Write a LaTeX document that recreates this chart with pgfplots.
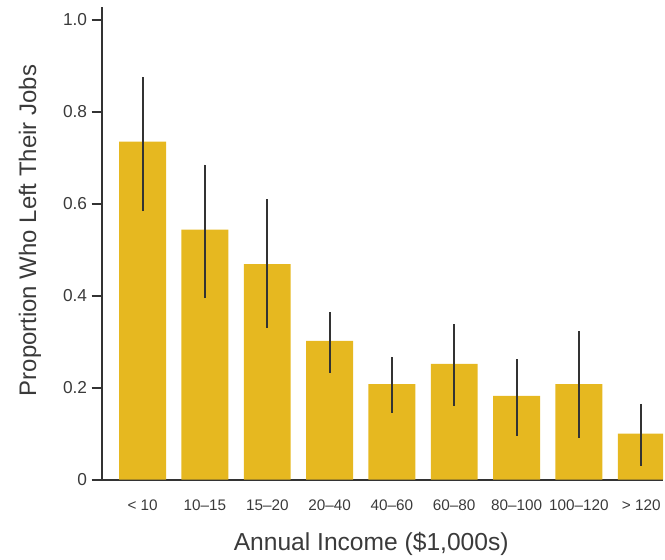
\documentclass[border=0pt]{standalone}
\usepackage{fontspec}
\setmainfont{Liberation Sans}
\usepackage{pgfplots}
\usepackage{pgfplotstable}
\pgfplotsset{compat=1.18}
\usetikzlibrary{calc}
\definecolor{barcol}{HTML}{E6B820}
\definecolor{axcol}{HTML}{333333}
\definecolor{txtcol}{HTML}{3A3A3A}
\pgfplotstableread{
x y ep em
0 0.735 0.141 0.151
1 0.544 0.141 0.149
2 0.469 0.141 0.139
3 0.302 0.062 0.070
4 0.208 0.059 0.063
5 0.252 0.086 0.092
6 0.182 0.080 0.087
7 0.208 0.115 0.117
8 0.100 0.065 0.070
}\datatab
\begin{document}
\begin{tikzpicture}
\begin{axis}[name=ax, scale only axis, width=422.25pt, height=355.5pt,
  xmin=-0.656, xmax=8.352, ymin=0, ymax=1.028,
  axis lines*=left,
  axis line style={line width=1.5pt, color=axcol, -},
  /pgf/number format/assume math mode=true,
  ytick={0,0.2,0.4,0.6,0.8,1.0},
  yticklabels={0,0.2,0.4,0.6,0.8,1.0},
  xtick={0,...,8},
  xticklabels={{< 10},{10–15},{15–20},{20–40},{40–60},{60–80},{80–100},{100–120},{> 120}},
  xtick style={draw=none},
  ytick style={line width=1.5pt, color=axcol},
  tick align=outside,
  major tick length=7.5pt,
  yticklabel style={font=\fontsize{13}{15}\selectfont, text=txtcol},
  xticklabel style={font=\fontsize{11.5}{13}\selectfont, text=txtcol, yshift=-4pt},
  xlabel={Annual Income (\$1,000s)},
  ylabel={Proportion Who Left Their Jobs},
  xlabel style={font=\fontsize{18.5}{21}\selectfont, text=txtcol, at={(axis description cs:0.48,-0.135)}, anchor=center},
  ylabel style={font=\fontsize{18}{21}\selectfont, text=txtcol, at={(axis description cs:-0.128,0.527)}, anchor=center, rotate=0},
  clip=true,
]
\addplot[ybar, bar width=35.25pt, bar shift=0pt, fill=barcol, draw=none,
  error bars/.cd, y dir=both, y explicit, error mark=none,
  error bar style={line width=1.5pt, color=axcol}]
  table[x=x, y=y, y error plus=ep, y error minus=em] {\datatab};
\end{axis}
\useasboundingbox ($(ax.south west)+(-76.5pt,-58.5pt)$) rectangle ($(ax.north east)+(0pt,5.25pt)$);
\end{tikzpicture}
\end{document}
